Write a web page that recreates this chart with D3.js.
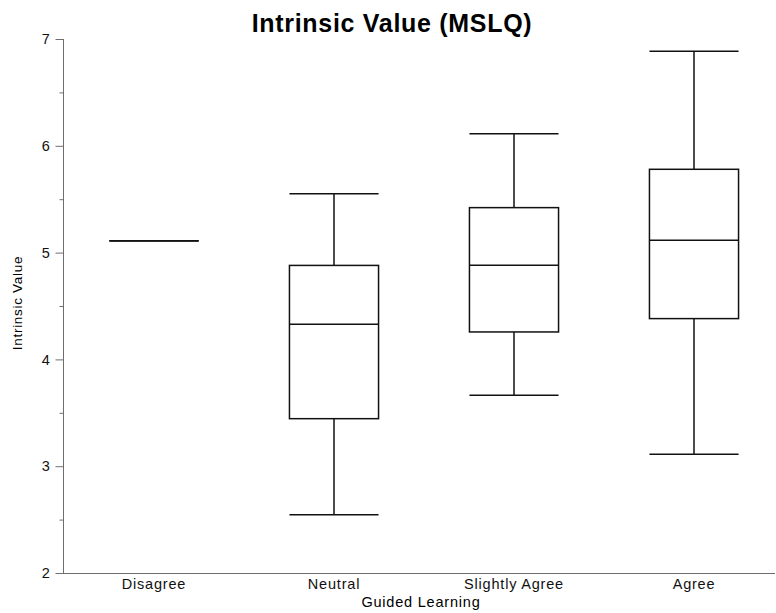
<!DOCTYPE html>
<html>
<head>
<meta charset="utf-8">
<script src="https://cdn.jsdelivr.net/npm/d3@7"></script>
<style>
    body { margin: 0; background: #fff; }
    text { font-family: "Liberation Sans", Arial, Helvetica, sans-serif; }
    .axis text { font-size: 14.5px; fill: #111; letter-spacing: 0.8px; }
    .axis path, .axis line { stroke: #6e6e6e; }
</style>
</head>
<body>
<div class="chart"></div>
<script>

// Box plot values
var categories = ["Disagree", "Neutral", "Slightly Agree", "Agree"];
var mins    = [5.111, 2.545, 3.665, 3.111];
var q1s     = [5.111, 3.445, 4.257, 4.382];
var medians = [5.111, 4.328, 4.881, 5.115];
var q3s     = [5.111, 4.880, 5.421, 5.780];
var maxs    = [5.111, 5.550, 6.113, 6.886];
var majorTicks = [2, 3, 4, 5, 6, 7];
var minorTicks = [2.5, 3.5, 4.5, 5.5, 6.5];

var boxes = categories.map(function(c, i) {
    return { cat: c, min: mins[i], q1: q1s[i], median: medians[i], q3: q3s[i], max: maxs[i] };
});

var width = 776, height = 613;
var plot = { left: 64, right: 775, top: 39, bottom: 573 };

var svg = d3.select(".chart").append("svg")
    .attr("width", width)
    .attr("height", height);

// Scales
var x = d3.scaleBand()
    .domain(categories)
    .range([plot.left, plot.left + 720])
    .padding(0);

var y = d3.scaleLinear()
    .domain([2, 7])
    .range([plot.bottom, plot.top]);

var boxW = x.bandwidth() * 0.495;

// Title
svg.append("text")
    .attr("x", 392)
    .attr("y", 32)
    .attr("text-anchor", "middle")
    .style("font-size", "25px")
    .style("font-weight", "bold")
    .style("letter-spacing", "0.7px")
    .text("Intrinsic Value (MSLQ)");

// Y axis: major and minor ticks
var yAxis = d3.axisLeft(y)
    .tickValues(majorTicks)
    .tickSize(8)
    .tickPadding(5)
    .tickFormat(d3.format("d"));

var yAxisGroup = svg.append("g")
    .attr("class", "y-axis axis")
    .attr("transform", "translate(" + (plot.left - 0.5) + ",0)")
    .call(yAxis);
yAxisGroup.select(".domain").attr("d", "M0," + plot.top + "V" + plot.bottom);

svg.append("g")
    .attr("class", "axis")
    .selectAll("line")
    .data(minorTicks)
    .enter()
    .append("line")
    .attr("x1", plot.left - 4.5)
    .attr("x2", plot.left - 0.5)
    .attr("y1", function(d) { return y(d) + 0.5; })
    .attr("y2", function(d) { return y(d) + 0.5; });

// X axis: labels only, no ticks
var xAxis = d3.axisBottom(x)
    .tickSize(0)
    .tickPadding(5);

var xAxisGroup = svg.append("g")
    .attr("class", "x-axis axis")
    .attr("transform", "translate(0," + (plot.bottom + 0.5) + ")")
    .call(xAxis);
xAxisGroup.select(".domain").attr("d", "M" + (plot.left - 8) + ",0H" + plot.right);

// Axis titles
svg.append("text")
    .attr("x", 421)
    .attr("y", 607)
    .attr("text-anchor", "middle")
    .style("font-size", "14.5px")
    .style("letter-spacing", "0.8px")
    .text("Guided Learning");

svg.append("text")
    .attr("transform", "translate(22," + 303 + ") rotate(-90)")
    .attr("text-anchor", "middle")
    .style("font-size", "13.5px")
    .style("letter-spacing", "0.7px")
    .text("Intrinsic Value");

// Boxes
var g = svg.selectAll(".box")
    .data(boxes)
    .enter()
    .append("g")
    .attr("class", "box")
    .attr("transform", function(d) { return "translate(" + (x(d.cat) + x.bandwidth() / 2) + ",0)"; })
    .style("stroke", "#111")
    .style("stroke-width", 1.5)
    .style("fill", "none");

// whiskers
g.append("line")
    .attr("x1", 0).attr("x2", 0)
    .attr("y1", function(d) { return y(d.max); })
    .attr("y2", function(d) { return y(d.q3); });

g.append("line")
    .attr("x1", 0).attr("x2", 0)
    .attr("y1", function(d) { return y(d.q1); })
    .attr("y2", function(d) { return y(d.min); });

// caps
g.append("line")
    .attr("x1", -boxW / 2).attr("x2", boxW / 2)
    .attr("y1", function(d) { return y(d.max); })
    .attr("y2", function(d) { return y(d.max); });

g.append("line")
    .attr("x1", -boxW / 2).attr("x2", boxW / 2)
    .attr("y1", function(d) { return y(d.min); })
    .attr("y2", function(d) { return y(d.min); });

// box
g.append("rect")
    .attr("x", -boxW / 2)
    .attr("width", boxW)
    .attr("y", function(d) { return y(d.q3); })
    .attr("height", function(d) { return y(d.q1) - y(d.q3); });

// median
g.append("line")
    .attr("x1", -boxW / 2).attr("x2", boxW / 2)
    .attr("y1", function(d) { return y(d.median); })
    .attr("y2", function(d) { return y(d.median); });

</script>
</body>
</html>
